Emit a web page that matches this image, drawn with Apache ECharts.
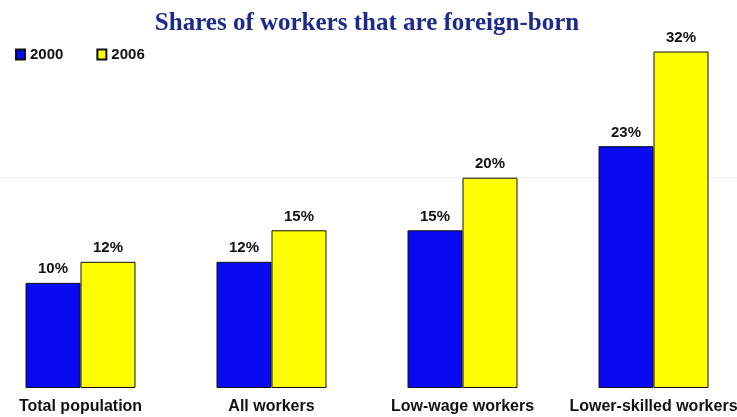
<!DOCTYPE html>
<html>
<head>
<meta charset="utf-8">
<script src="https://cdn.jsdelivr.net/npm/echarts@6/dist/echarts.min.js"></script>
<style>
  html, body { margin: 0; padding: 0; background: #fff; overflow: hidden; }
  /* the plot runs a little past both edges of the picture */
  #chart { width: 764px; height: 417px; margin-left: -15px; }
</style>
</head>
<body>
<div id="chart"></div>
<script>
const categories = ['Total population', 'All workers', 'Low-wage workers', 'Lower-skilled workers'];
const shares2000 = [10, 12, 15, 23];
const shares2006 = [12, 15, 20, 32];

const myChart = echarts.init(document.getElementById('chart'));

const labelStyle = {
  show: true,
  position: 'top',
  distance: 6,
  formatter: '{c}%',
  color: '#111',
  fontFamily: 'Liberation Sans, Arial, sans-serif',
  fontWeight: 'bold',
  fontSize: 15
};

myChart.setOption({
  animation: false,
  title: {
    text: 'Shares of workers that are foreign-born',
    left: 'center',
    top: 6,
    textStyle: {
      fontFamily: 'Liberation Serif, Times New Roman, serif',
      fontWeight: 'bold',
      fontSize: 25,
      color: '#1c2a8c'
    }
  },
  legend: {
    left: 25,
    top: 42,
    itemWidth: 9,
    itemHeight: 10,
    itemGap: 33,
    icon: 'rect',
    textStyle: {
      fontFamily: 'Liberation Sans, Arial, sans-serif',
      fontWeight: 'bold',
      fontSize: 15,
      color: '#111'
    },
    data: ['2000', '2006']
  },
  grid: { left: 0, right: 0, top: 20, bottom: 29, containLabel: false },
  xAxis: {
    type: 'category',
    data: categories,
    axisLine: { show: false },
    axisTick: { show: false },
    axisLabel: {
      interval: 0,
      margin: 11,
      color: '#111',
      fontFamily: 'Liberation Sans, Arial, sans-serif',
      fontWeight: 'bold',
      fontSize: 16
    }
  },
  yAxis: {
    type: 'value',
    min: 0,
    max: 35,
    interval: 20,
    axisLine: { show: false },
    axisTick: { show: false },
    axisLabel: { show: false },
    splitLine: { lineStyle: { color: ['transparent', '#ececec', 'transparent'], width: 1 } }
  },
  series: [
    {
      name: '2000',
      type: 'bar',
      data: shares2000,
      barWidth: 55,
      barGap: '0%',
      itemStyle: { color: '#0a0af0', borderColor: '#111', borderWidth: 1 },
      label: labelStyle
    },
    {
      name: '2006',
      type: 'bar',
      data: shares2006,
      barWidth: 55,
      barGap: '0%',
      itemStyle: { color: '#ffff00', borderColor: '#111', borderWidth: 1 },
      label: labelStyle
    }
  ]
});
</script>
</body>
</html>
